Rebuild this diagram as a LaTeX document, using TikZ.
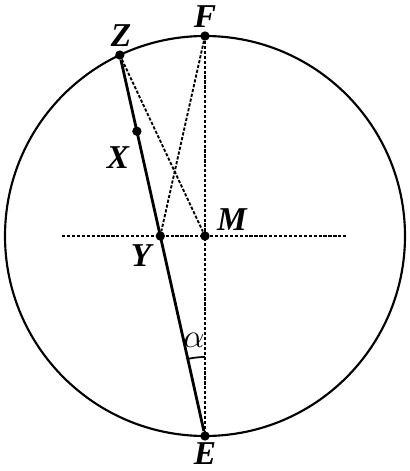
\documentclass[tikz,border=0pt]{standalone}
\usepackage{amsmath,amssymb}
\usepackage{fontspec}
\setmainfont{Liberation Serif}
\usepackage{tikz}
\usetikzlibrary{calc}

\begin{document}
\begin{tikzpicture}[x=0.75pt,y=0.75pt,
  pt/.style={circle,fill=black,inner sep=0pt,minimum size=7pt},
  lbl/.style={font=\fontsize{25}{30}\selectfont\bfseries\itshape,inner sep=1pt},
  dash line/.style={line width=1.4pt,dash pattern=on 2.4pt off 1.3pt}]
\useasboundingbox (-205,-235) rectangle (205,236);

% Circle
\draw[line width=1.6pt] (0,0) circle (200);

% Points on the circle
\node[pt] (M) at (0,0) {};
\node[pt] (F) at (90:200) {};
\node[pt] (E) at (-90:200) {};
\node[pt] (Z) at (115.2:200) {};
\coordinate (L) at (-143,0);
\coordinate (R) at (143,0);

% Axes through M
\draw[dash line] (L) -- (R);
\draw[dash line] (F) -- (E);

% Chord through Z and E
\draw[line width=2.1pt] (Z) -- (E);
\node[pt] (Y) at (intersection of Z--E and L--R) {};
\node[pt] (X) at ($(Z)!0.2!(E)$) {};

% Dashed connections
\draw[dash line] (Z) -- (M);
\draw[dash line] (F) -- (Y);

% Angle at E
\draw[line width=1.3pt] ($(E)+(90:79)$) arc (90:102.6:79);
\node at (-11,-104) {\fontsize{24}{28}\selectfont$\alpha$};

% Labels
\node[lbl] at (-84,200) {Z};
\node[lbl] at (0,219) {F};
\node[lbl] at (-87,78) {X};
\node[lbl] at (27,16) {M};
\node[lbl] at (-64,-20) {Y};
\node[lbl] at (0,-218) {E};
\end{tikzpicture}
\end{document}
